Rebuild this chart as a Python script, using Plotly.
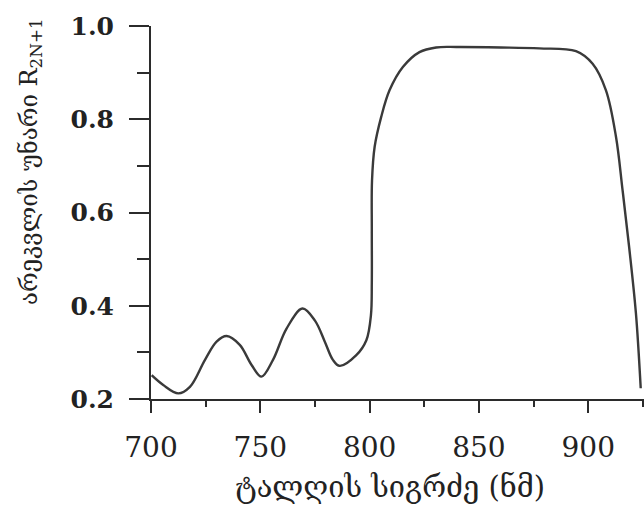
import plotly.graph_objects as go

# Reflectance spectrum of the multilayer stack, R_{2N+1}
wavelength_nm = [700.3, 705.6, 712.5, 717.8, 724.7, 730.0, 734.6, 740.6, 746.0,
                 750.5, 755.8, 762.0, 769.3, 775.0, 779.5, 783.2, 786.3, 793.9,
                 798.5, 800.6, 801.0, 801.0, 801.1, 802.3, 805.3, 809.1, 815.2,
                 822.8, 830.4, 840.0, 860.0, 877.6, 894.4, 902.0, 908.1, 912.7,
                 915.7, 918.7, 921.8, 924.0]
reflectance = [0.251, 0.230, 0.212, 0.226, 0.284, 0.323, 0.335, 0.316, 0.273,
               0.248, 0.284, 0.351, 0.394, 0.368, 0.323, 0.284, 0.271, 0.294,
               0.326, 0.380, 0.450, 0.562, 0.669, 0.741, 0.805, 0.862, 0.912,
               0.944, 0.954, 0.955, 0.954, 0.952, 0.946, 0.919, 0.862, 0.762,
               0.648, 0.526, 0.384, 0.223]

x_ticks = [700, 750, 800, 850, 900]
y_ticks = [0.2, 0.4, 0.6, 0.8, 1.0]
y_tick_text = ["0.2", "0.4", "0.6", "0.8", "1.0"]

x_title = "ტალღის სიგრძე (ნმ)"
y_title = "არეკვლის უნარი R<sub>2N+1</sub>"

ink = "#2b2b2b"
serif = "DejaVu Serif"

fig = go.Figure()
fig.add_trace(go.Scatter(
    x=wavelength_nm, y=reflectance, mode="lines",
    line=dict(color="#3a3a3a", width=2.4, shape="spline", smoothing=1.0),
    hoverinfo="skip", showlegend=False,
))

fig.update_layout(
    width=644, height=506,
    margin=dict(l=151, r=0, t=26, b=107),
    paper_bgcolor="white", plot_bgcolor="white",
    xaxis=dict(
        range=[700, 925.5], tickmode="array", tickvals=x_ticks,
        showgrid=False, zeroline=False,
        showline=True, linecolor=ink, linewidth=2,
        ticks="outside", ticklen=12, tickwidth=2, tickcolor=ink,
        ticklabelstandoff=10,
        tickfont=dict(family=serif, size=28, color="#222"),
        minor=dict(dtick=25, tick0=725, ticks="outside", ticklen=6,
                   tickwidth=2, tickcolor=ink, showgrid=False),
    ),
    yaxis=dict(
        range=[0.2, 1.0], tickmode="array", tickvals=y_ticks, ticktext=y_tick_text,
        showgrid=False, zeroline=False,
        showline=True, linecolor=ink, linewidth=2,
        ticks="outside", ticklen=20, tickwidth=2, tickcolor=ink,
        ticklabelstandoff=10,
        tickfont=dict(family=serif, size=25, color="#222", weight="bold"),
        minor=dict(dtick=0.1, tick0=0.3, ticks="outside", ticklen=12,
                   tickwidth=2, tickcolor=ink, showgrid=False),
    ),
    annotations=[
        dict(text=x_title, xref="paper", yref="paper",
             x=(390 - 151) / 493, y=-(487 - 399) / 373,
             xanchor="center", yanchor="middle", showarrow=False,
             font=dict(family=serif, size=29, color="#222")),
        dict(text=y_title, xref="paper", yref="paper",
             x=-(151 - 30) / 493, y=(399 - 162) / 373,
             xanchor="center", yanchor="middle", showarrow=False,
             textangle=-90,
             font=dict(family=serif, size=24, color="#222")),
    ],
)

fig.write_html("out.html")
